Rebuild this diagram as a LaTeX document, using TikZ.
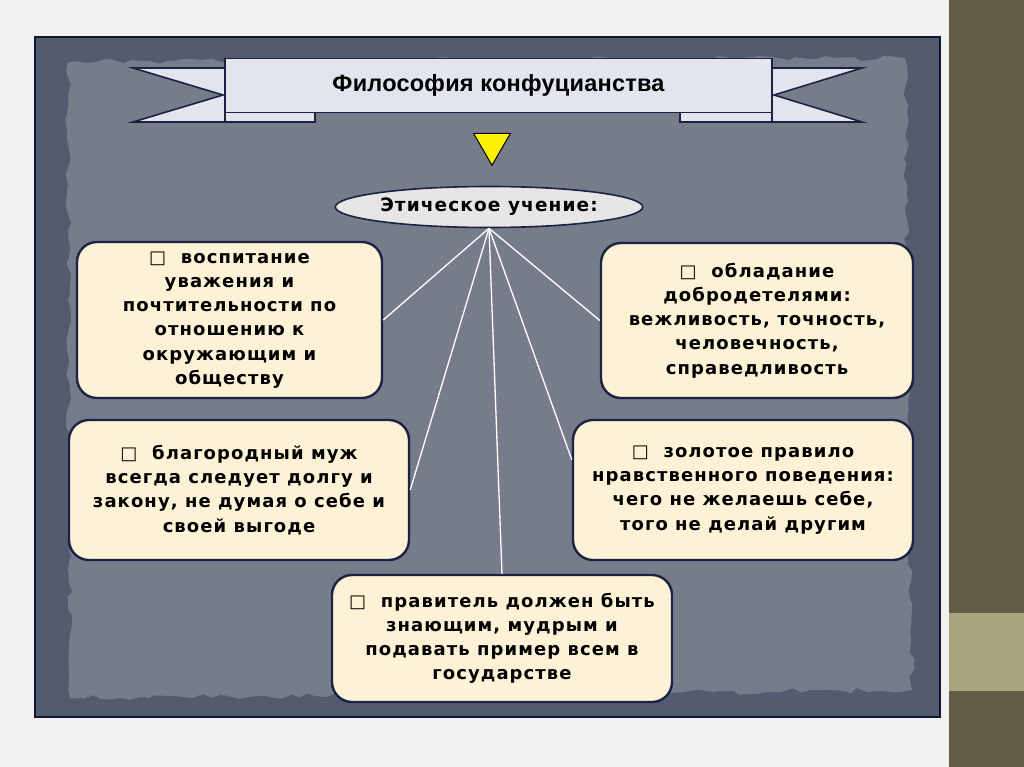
\documentclass[tikz,border=0pt]{standalone}
\usepackage{fontspec}
\setmainfont{DejaVu Sans}
\newfontfamily\boxfont{DejaVu Sans}[BoldFont={DejaVu Sans Bold},LetterSpace=6]
\newfontfamily\titlefont{Liberation Sans}[LetterSpace=1]
\usetikzlibrary{shapes.geometric,decorations.pathmorphing}
\definecolor{pagebg}{HTML}{F2F2F2}
\definecolor{bandA}{HTML}{655C46}
\definecolor{bandB}{HTML}{A9A47F}
\definecolor{frameDark}{HTML}{535B6E}
\definecolor{frameIn}{HTML}{767C8A}
\definecolor{navy}{HTML}{1B2244}
\definecolor{cream}{HTML}{FDF2D6}
\definecolor{ribbon}{HTML}{E3E5EE}
\definecolor{ovalfill}{HTML}{E6E6E6}
\tikzset{
  idea/.style={draw=navy, line width=2.4pt, fill=cream, rounded corners=20pt,
    align=center, font=\boxfont\bfseries\fontsize{18}{24.2}\selectfont, inner sep=0pt},
  spoke/.style={draw=white, line width=1.3pt},
  rib/.style={draw=navy, line width=1.6pt, fill=ribbon, line join=miter}
}
\newcommand{\bx}{{\fontspec{DejaVu Sans}\char"25A1}\ \ }
\begin{document}
\begin{tikzpicture}[x=1pt,y=-1pt]
\useasboundingbox (0,0) rectangle (1024,767);
% page
\fill[pagebg] (0,0) rectangle (949,767);
\fill[bandA] (949,0) rectangle (1024,767);
\fill[bandB] (949,613) rectangle (1024,691);
% frame
\fill[frameDark] (35,37) rectangle (940,717);
\draw[navy!70!black, line width=1.5pt] (35,37) rectangle (940,717);
\pgfmathsetseed{7}
\fill[frameIn, decorate, decoration={random steps, segment length=9pt, amplitude=3pt}]
  (68,62) -- (905,58) -- (912,690) -- (70,698) -- cycle;
% ribbon
\path[rib] (133,68) -- (225,68) -- (225,122) -- (133,122) -- (223,95) -- cycle;
\path[rib] (862,68) -- (772,68) -- (772,122) -- (862,122) -- (774,95) -- cycle;
\path[rib] (225,104) rectangle (315,122);
\path[rib] (680,104) rectangle (772,122);
\node[rib, rectangle, minimum width=547pt, minimum height=54pt, inner sep=0pt,
  font=\titlefont\bfseries\fontsize{23.5}{26}\selectfont] (title) at (498.5,85.5) {Философия конфуцианства};
% arrow triangle
\node[draw=black, line width=1pt, fill=yellow, isosceles triangle, shape border rotate=-90,
  isosceles triangle apex angle=60, minimum height=32pt, inner sep=0pt] (tri) at (492,144) {};
% ellipse
\node[draw=navy, line width=1.6pt, fill=ovalfill, ellipse, minimum width=302pt, minimum height=41pt,
  inner sep=0pt, font=\boxfont\bfseries\fontsize{18.5}{20}\selectfont] (eth) at (489,207) {Этическое учение:};
% boxes
\node[idea, minimum width=305pt, minimum height=156pt] (b1) at (229.5,320)
  {\bx воспитание\\уважения и\\почтительности по\\отношению к\\окружающим и\\обществу};
\node[idea, minimum width=312pt, minimum height=155pt] (b2) at (757,320.5)
  {\bx обладание\\добродетелями:\\вежливость, точность,\\человечность,\\справедливость};
\node[idea, minimum width=340pt, minimum height=140pt] (b3) at (239,490)
  {\bx благородный муж\\всегда следует долгу и\\закону, не думая о себе и\\своей выгоде};
\node[idea, minimum width=340pt, minimum height=140pt] (b4) at (743,490)
  {\bx золотое правило\\нравственного поведения:\\чего не желаешь себе,\\того не делай другим};
\node[idea, minimum width=340pt, minimum height=127pt] (b5) at (502,638.5)
  {\bx правитель должен быть\\знающим, мудрым и\\подавать пример всем в\\государстве};
% spokes
\draw[spoke] (eth.south) -- (b1.east);
\draw[spoke] (eth.south) -- (b2.west);
\draw[spoke] (eth.south) -- (b3.east);
\draw[spoke] (eth.south) -- (b4.170);
\draw[spoke] (eth.south) -- (b5.north);
\end{tikzpicture}
\end{document}
